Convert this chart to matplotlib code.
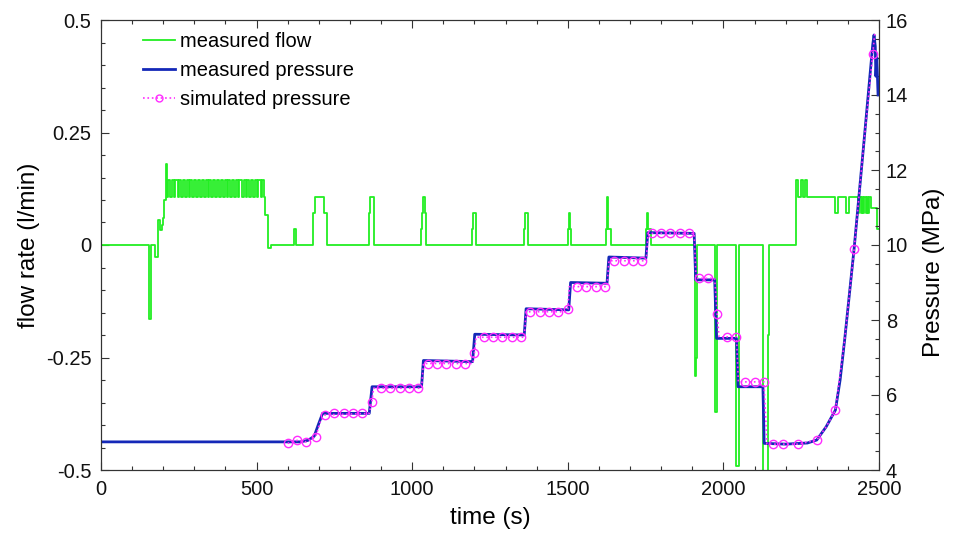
import matplotlib
matplotlib.use('Agg')
import matplotlib.pyplot as plt
from matplotlib.lines import Line2D
from matplotlib.ticker import MultipleLocator

plt.rcParams['font.family'] = ['Liberation Sans', 'DejaVu Sans']

# --- caudal medido (l/min), cambios de escalon ---
flow_t_a = [0, 155, 162, 174, 184, 189, 195, 200, 203, 208, 213]
flow_v_a = [0, -0.165, 0, -0.026, 0.056, 0.033, 0.045, 0.06, 0.1, 0.18, 0.107]

# peine entre 216 y 525 s
comb_up = [216, 227, 239, 250, 262, 275, 287, 299, 311, 323, 336, 348, 360,
           372, 384, 397, 409, 421, 433, 445, 458, 470, 482, 494, 506, 517]
comb_dn = [223, 234, 246, 257, 269, 282, 294, 306, 318, 330, 343, 355, 367,
           379, 391, 404, 416, 428, 440, 452, 465, 477, 489, 501, 513, 524]
comb_hi, comb_lo = 0.144, 0.107

flow_t_b = [527, 536, 538, 545,
            620, 626, 681, 688, 718, 725, 862, 865, 877,
            1029, 1033, 1036, 1040, 1045, 1193, 1196, 1205, 1359, 1362, 1371,
            1501, 1504, 1507, 1511, 1622, 1626, 1629, 1639, 1752, 1755, 1758, 1767,
            1909, 1913, 1916, 1973, 1980, 2042, 2050, 2128, 2143, 2148,
            2233, 2241, 2249, 2257, 2262, 2270, 2359, 2369, 2394, 2405]
flow_v_b = [0.067, 0, -0.007, 0,
            0.036, 0, 0.072, 0.107, 0.072, 0, 0.072, 0.107, 0,
            0.035, 0.072, 0.107, 0.072, 0, 0.035, 0.072, 0, 0.035, 0.072, 0,
            0.035, 0.072, 0.035, 0, 0.035, 0.107, 0.035, 0, 0.035, 0.072, 0.035, 0,
            -0.29, -0.25, 0, -0.37, 0, -0.49, 0, -0.55, -0.2, 0,
            0.144, 0.107, 0.144, 0.107, 0.144, 0.107, 0.072, 0.107, 0.072, 0.107]

# peine final (2433-2471 s)
comb2_dn = [2433, 2441, 2449, 2457, 2465]
comb2_up = [2437, 2445, 2453, 2461, 2469]
comb2_lo, comb2_hi = 0.072, 0.107

flow_t_c = [2473, 2492, 2500]
flow_v_c = [0.082, 0.035, 0.035]

# --- presion medida (MPa) ---
meas_t = [0, 640, 665, 685, 698, 712, 862, 871, 1030, 1036, 1194, 1201,
          1360, 1366, 1503, 1509, 1626, 1632, 1751, 1757, 1906, 1911, 1972, 1978,
          2042, 2047, 2127, 2131, 2200, 2270, 2300, 2330, 2360, 2375, 2390, 2405,
          2420, 2450, 2480, 2484, 2488, 2490, 2493, 2497]
meas_p = [4.75, 4.75, 4.79, 4.9, 5.2, 5.51, 5.51, 6.22, 6.22, 6.92, 6.89, 7.62,
          7.6, 8.3, 8.27, 9.0, 8.98, 9.68, 9.65, 10.33, 10.31, 9.07, 9.07, 7.51,
          7.51, 6.22, 6.22, 4.71, 4.69, 4.72, 4.8, 5.15, 5.6, 6.4, 7.5, 8.7,
          9.9, 12.6, 15.35, 15.6, 15.3, 14.5, 15.0, 14.0]

# --- presion simulada (MPa) ---
sim_t = [600, 630, 660, 690, 705, 720, 862, 870, 876, 1030, 1036, 1195, 1200, 1205,
         1360, 1366, 1490, 1500, 1505, 1626, 1632, 1752, 1758, 1906, 1912,
         1972, 1980, 1986, 2042, 2048, 2130, 2140, 2240, 2300, 2330, 2360, 2390,
         2420, 2450, 2480, 2487]
sim_p = [4.71, 4.79, 4.75, 4.89, 5.3, 5.47, 5.51, 5.82, 6.18, 6.18, 6.84, 6.84, 7.13, 7.54,
         7.54, 8.22, 8.22, 8.29, 8.89, 8.89, 9.58, 9.58, 10.31, 10.31, 9.11,
         9.11, 8.15, 7.55, 7.55, 6.35, 6.35, 4.69, 4.69, 4.8, 5.15, 5.6, 7.5,
         9.88, 12.6, 15.1, 15.7]

mark_t = [600, 630, 660, 690, 720, 750, 780, 810, 840, 870, 900, 930, 960, 990, 1020,
          1050, 1080, 1110, 1140, 1170, 1200, 1230, 1260, 1290, 1320, 1350, 1380,
          1410, 1440, 1470, 1500, 1530, 1560, 1590, 1620, 1650, 1680, 1710, 1740,
          1770, 1800, 1830, 1860, 1890, 1920, 1950, 1980, 2010, 2040, 2070, 2100,
          2130, 2160, 2190, 2240, 2300, 2360, 2420, 2480]
mark_p = [4.71, 4.79, 4.75, 4.89, 5.47, 5.51, 5.51, 5.51, 5.51, 5.82, 6.18, 6.18, 6.18,
          6.18, 6.18, 6.84, 6.84, 6.84, 6.84, 6.84, 7.13, 7.54, 7.54, 7.54, 7.54, 7.54,
          8.22, 8.22, 8.22, 8.22, 8.29, 8.89, 8.89, 8.89, 8.89, 9.58, 9.58, 9.58, 9.58,
          10.31, 10.31, 10.31, 10.31, 10.31, 9.11, 9.11, 8.15, 7.55, 7.55, 6.35, 6.35,
          6.35, 4.69, 4.69, 4.69, 4.8, 5.6, 9.88, 15.1]

# armar la serie de caudal completa
flow_t = list(flow_t_a)
flow_v = list(flow_v_a)
for up, dn in zip(comb_up, comb_dn):
    flow_t += [up, dn]
    flow_v += [comb_hi, comb_lo]
flow_t += flow_t_b
flow_v += flow_v_b
for dn, up in zip(comb2_dn, comb2_up):
    flow_t += [dn, up]
    flow_v += [comb2_lo, comb2_hi]
flow_t += flow_t_c
flow_v += flow_v_c

verde = '#22ee22'
azul = '#1428b8'
magenta = '#ff2cff'
gris = '#333333'

fig = plt.figure(figsize=(9.54, 5.36), dpi=100)
ax1 = fig.add_axes([101 / 954, 1 - 470 / 536, 778 / 954, 450 / 536])
ax2 = ax1.twinx()

ax1.step(flow_t, flow_v, where='post', color=verde, lw=1.3)
ax2.plot(meas_t, meas_p, color=azul, lw=2)
ax2.plot(sim_t, sim_p, ':', color=magenta, lw=1.2)
ax2.plot(mark_t, mark_p, 'o', ms=6, mfc='none', mec=magenta, mew=1)

ax1.set_xlim(0, 2500)
ax1.set_ylim(-0.5, 0.5)
ax2.set_ylim(4, 16)

ax1.set_xticks([0, 500, 1000, 1500, 2000, 2500])
ax1.set_yticks([-0.5, -0.25, 0, 0.25, 0.5])
ax1.set_yticklabels(['-0.5', '-0.25', '0', '0.25', '0.5'])
ax1.xaxis.set_minor_locator(MultipleLocator(100))
ax1.yaxis.set_minor_locator(MultipleLocator(0.05))
ax2.set_yticks([4, 6, 8, 10, 12, 14, 16])
ax2.yaxis.set_minor_locator(MultipleLocator(0.5))

for ax in (ax1, ax2):
    ax.tick_params(which='both', direction='in', colors=gris, labelcolor='#111111',
                   labelsize=14.5, width=0.8)
    ax.tick_params(which='major', length=6)
    ax.tick_params(which='minor', length=3)
    for s in ax.spines.values():
        s.set_color(gris)
        s.set_linewidth(0.8)
ax1.tick_params(which='both', top=True, right=False)
ax1.tick_params(axis='x', pad=7)
ax1.tick_params(axis='y', pad=7)
ax2.tick_params(axis='y', pad=5)

ax1.set_xlabel('time (s)', fontsize=17.5, labelpad=6)
ax1.set_ylabel('flow rate (l/min)', fontsize=17.5, labelpad=4)
ax2.set_ylabel('Pressure (MPa)', fontsize=17.5)
ax2.yaxis.set_label_coords(1.057, 0.44)

handles = [Line2D([], [], color=verde, lw=1.3),
           Line2D([], [], color=azul, lw=2),
           Line2D([], [], color=magenta, ls=':', lw=1.2, marker='o', ms=5,
                  mfc='none', mec=magenta)]
labels = ['measured flow', 'measured pressure', 'simulated pressure']
ax2.legend(handles, labels, loc='upper left', bbox_to_anchor=(143 / 954, 1 - 32 / 536),
           bbox_transform=fig.transFigure, frameon=False, fontsize=14.5,
           borderpad=0, borderaxespad=0, handlelength=1.6, handletextpad=0.25,
           labelspacing=0.5)

fig.savefig('out.png', dpi=100)
